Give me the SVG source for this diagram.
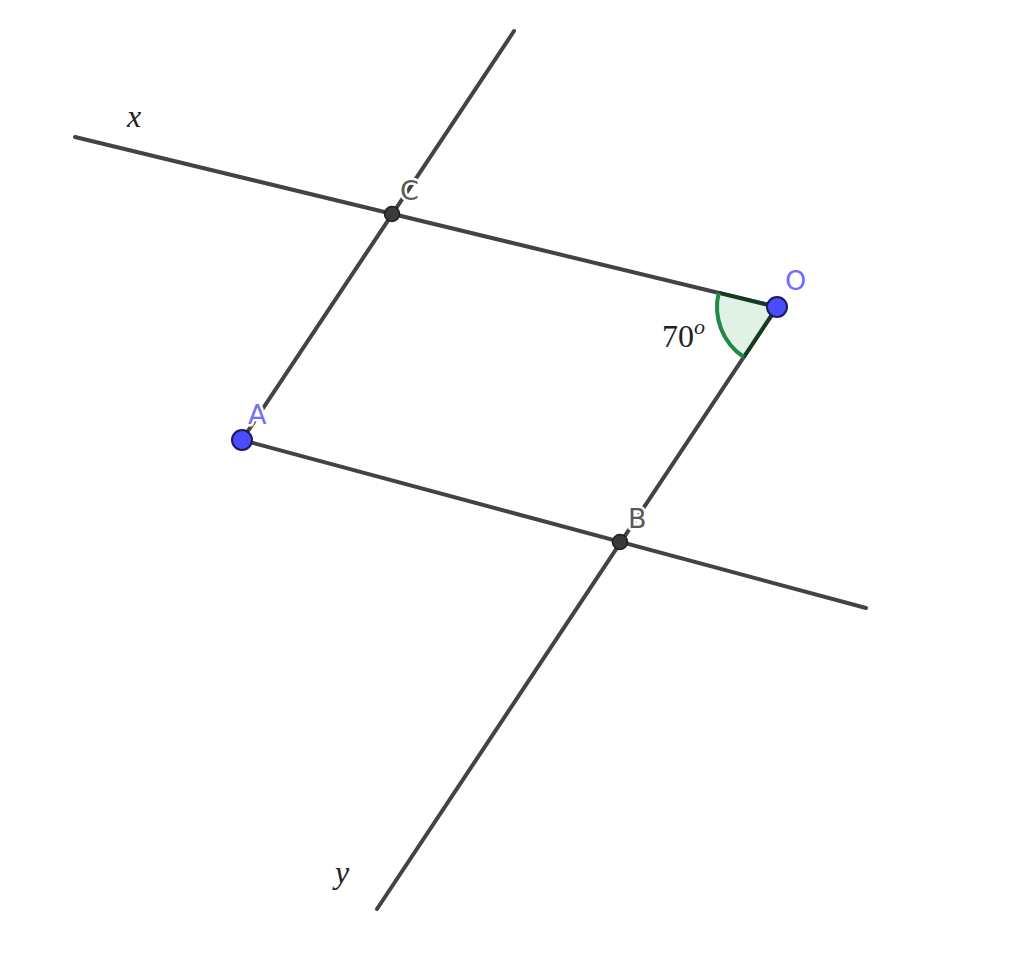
<svg xmlns="http://www.w3.org/2000/svg" width="1024" height="979" viewBox="0 0 1024 979">
<style>
.ln{stroke:#434343;stroke-width:4;stroke-linecap:round;fill:none}
.lbl{font-family:"DejaVu Sans","Liberation Sans",sans-serif;font-size:27px;paint-order:stroke;stroke:#fff;stroke-width:5px;stroke-linejoin:round}
.free{fill:#6f6fff}
.dep{fill:#5a5a5a}
.math{font-family:"Liberation Serif","DejaVu Serif",serif;font-style:italic;font-size:32px;fill:#222}
.bp{fill:#4b4bff;stroke:#1c1c5a;stroke-width:2}
.dp{fill:#3a3a3a;stroke:#1e1e1e;stroke-width:1.5}
</style>
<rect width="1024" height="979" fill="#fff"/>
<g id="connectors">
<line class="ln" x1="75" y1="137" x2="777" y2="307"/>
<line class="ln" x1="514" y1="31" x2="242" y2="440"/>
<line class="ln" x1="242" y1="440" x2="866" y2="608"/>
<line class="ln" x1="777" y1="307" x2="377" y2="909"/>
</g>
<g id="angle">
<path d="M777 307 L718.7 292.9 A60 60 0 0 0 743.8 357 Z" fill="#e2f1e6" stroke="none"/>
<path d="M718.7 292.9 L777 307 L743.8 357" fill="none" stroke="#163a22" stroke-width="4"/>
<path d="M718.7 292.9 A60 60 0 0 0 743.8 357" fill="none" stroke="#1e8a44" stroke-width="4"/>
<text x="662" y="347" font-family="Liberation Serif,DejaVu Serif,serif" font-size="32" fill="#222">70<tspan font-style="italic" font-size="22" dy="-13">o</tspan></text>
</g>
<g id="x-label"><text class="math" x="127" y="127">x</text></g>
<g id="y-label"><text class="math" x="335" y="883">y</text></g>
<g id="C"><circle class="dp" cx="392" cy="214" r="7.5"/><text class="lbl dep" x="400" y="200">C</text></g>
<g id="B"><circle class="dp" cx="620" cy="542" r="7.5"/><text class="lbl dep" x="628" y="528">B</text></g>
<g id="A"><circle class="bp" cx="242" cy="440" r="10"/><text class="lbl free" x="248" y="424">A</text></g>
<g id="O"><circle class="bp" cx="777" cy="307" r="10"/><text class="lbl free" x="785" y="290">O</text></g>
</svg>
